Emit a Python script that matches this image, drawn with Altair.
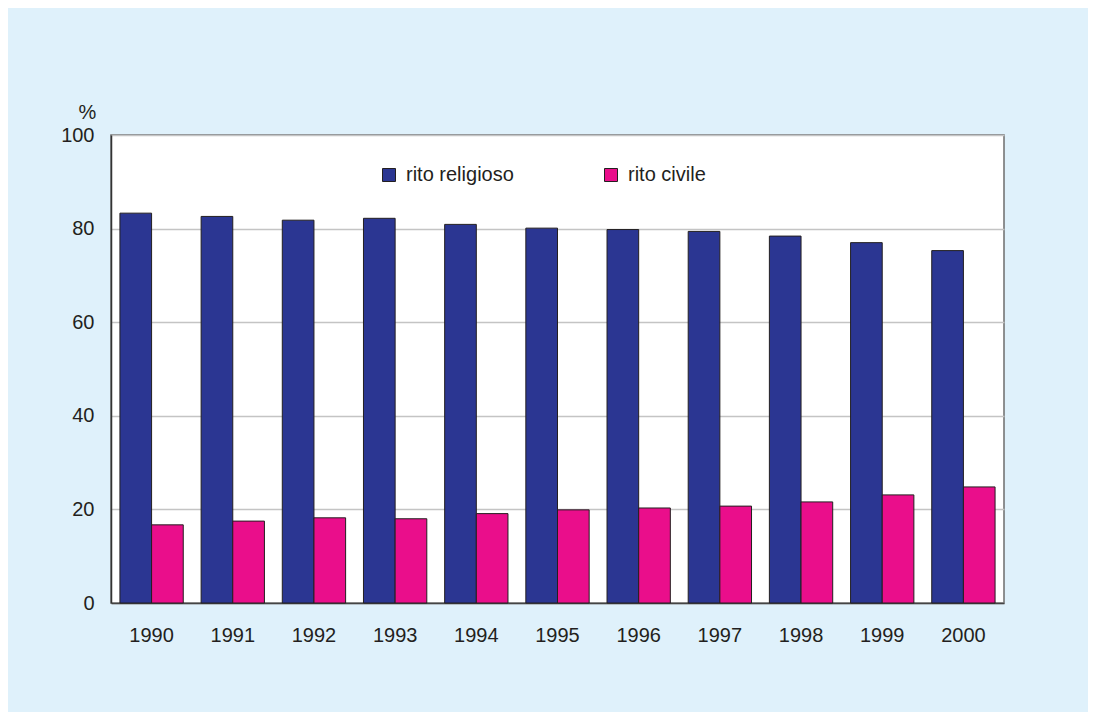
import altair as alt
import pandas as pd

years = ["1990", "1991", "1992", "1993", "1994", "1995", "1996", "1997", "1998", "1999", "2000"]
religioso = [83.3, 82.6, 81.8, 82.2, 80.9, 80.1, 79.8, 79.4, 78.4, 77.0, 75.3]
civile = [16.7, 17.5, 18.2, 18.0, 19.1, 19.9, 20.3, 20.7, 21.6, 23.1, 24.8]
series = ["rito religioso", "rito civile"]
colors = ["#2b3692", "#ea0e8b"]

rows = []
for i, y in enumerate(years):
    rows.append({"anno": y, "rito": series[0], "valore": religioso[i]})
    rows.append({"anno": y, "rito": series[1], "valore": civile[i]})
df = pd.DataFrame(rows)

FONT = "Liberation Sans"
TXT = "#231f20"

chart = alt.Chart(df).mark_bar(stroke=TXT, strokeWidth=1).encode(
    x=alt.X("anno:N", sort=years, title=None,
            scale=alt.Scale(paddingInner=0.22, paddingOuter=0.11),
            axis=alt.Axis(labelAngle=0, ticks=False, labelPadding=22, labelFontSize=20,
                          labelFont=FONT, labelColor=TXT, domainColor="#444444",
                          domainWidth=1.5, grid=False)),
    xOffset=alt.XOffset("rito:N", sort=series, scale=alt.Scale(paddingInner=0, paddingOuter=0)),
    y=alt.Y("valore:Q", scale=alt.Scale(domain=[0, 100], nice=False),
            axis=alt.Axis(values=[0, 20, 40, 60, 80, 100], ticks=False, labelPadding=17,
                          labelFontSize=20, labelFont=FONT, labelColor=TXT,
                          domainColor="#333333", domainWidth=1.5,
                          grid=True, gridColor="#c4c4c4", gridWidth=1.5,
                          title="%", titleAngle=0, titleX=-24, titleY=-23,
                          titleAlign="center", titleBaseline="middle",
                          titleFont=FONT, titleFontSize=20, titleFontWeight="normal",
                          titleColor=TXT)),
    color=alt.Color("rito:N", sort=series,
                    scale=alt.Scale(domain=series, range=colors),
                    legend=alt.Legend(title=None, orient="none", direction="horizontal",
                                      legendX=268, legendY=30, symbolType="square",
                                      symbolSize=169, symbolStrokeColor=TXT,
                                      symbolStrokeWidth=1, labelFontSize=20, labelFont=FONT,
                                      labelColor=TXT, columnPadding=87, labelOffset=7,
                                      symbolOpacity=1)),
).properties(
    width=893,
    height=468,
    background="#dff1fb",
    padding={"left": 103, "top": 127, "right": 84, "bottom": 109},
    autosize=alt.AutoSizeParams(type="none"),
).configure_view(
    fill="white", stroke="#6d6d6d", strokeWidth=1.5
)

chart.save("out.html", embed_options={"renderer": "svg", "actions": False})
